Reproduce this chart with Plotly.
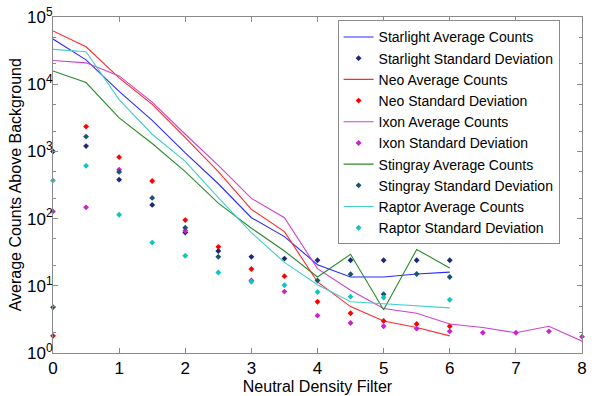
import plotly.graph_objects as go

x_half = [0, 0.5, 1, 1.5, 2, 2.5, 3, 3.5, 4, 4.5, 5, 5.5, 6]
x_ixon = [0, 0.5, 1, 1.5, 2, 2.5, 3, 3.5, 4, 4.5, 5, 5.5, 6, 6.5, 7, 7.5, 8]

starlight_avg = [47000, 23000, 7800, 2900, 950, 330, 103, 54, 20.6, 13.5, 13.5, 15, 16]
neo_avg = [62000, 36000, 12400, 5000, 1600, 500, 137, 64, 11.4, 4.9, 3.0, 2.4, 1.8]
ixon_avg = [22500, 20800, 13300, 5400, 1800, 620, 200, 103, 18, 8.6, 4.6, 3.9, 2.7, 2.4, 2.0, 2.5, 1.5]
stingray_avg = [15700, 10600, 3160, 1310, 500, 170, 72, 33, 13.5, 29.4, 4.4, 34.8, 18.4]
raptor_avg = [33000, 30400, 5900, 1800, 710, 205, 62, 22.3, 10.4, 5.8, 5.4, 5.0, 4.7]

starlight_std = [1000, 1200, 380, 160, 62, 33, 27, 25.4, 24, 24, 24, 24, 24]
neo_std = [1.8, 2340, 820, 362, 95, 38, 17.8, 13.9, 5.8, 3.9, 3.0, 2.7, 2.5]
ixon_std = [128, 147, 535, None, 66, None, 12, 8.2, 3.6, 2.8, 2.5, 2.3, 2.1, 2.0, 2.0, 2.1, 1.75]
stingray_std = [4.8, 1660, 495, 203, 73, 27, None, None, 12, 14.9, 7.5, 15, 13.5]
raptor_std = [370, 610, 114, 44, 28, 15.8, 11.5, 10.2, 8.1, 6.9, 6.7, None, 6.2]

series = [
    ("Starlight", x_half, starlight_avg, starlight_std, "#2b2bff", "#1b2a78"),
    ("Neo", x_half, neo_avg, neo_std, "#ff2a2a", "#ff0000"),
    ("Ixon", x_ixon, ixon_avg, ixon_std, "#cc44cc", "#cc22cc"),
    ("Stingray", x_half, stingray_avg, stingray_std, "#2a8a2a", "#1b5470"),
    ("Raptor", x_half, raptor_avg, raptor_std, "#45cccc", "#10c4c4"),
]

FONT = "Arial, Liberation Sans, sans-serif"
fig = go.Figure()
for name, xs, avg, std, lc, mc in series:
    fig.add_trace(go.Scatter(x=xs, y=avg, mode="lines", name=f"{name} Average Counts",
                             line=dict(color=lc, width=1.1)))
    fig.add_trace(go.Scatter(x=xs, y=std, mode="markers", name=f"{name} Standard Deviation",
                             cliponaxis=False,
                             marker=dict(color=mc, size=4.5, symbol="diamond")))

y_vals = [1, 10, 100, 1000, 10000, 100000]
y_text = [f"10<sup>{i}</sup>" for i in range(6)]

axis_common = dict(showline=True, linecolor="#8a8a8a", linewidth=1, mirror="ticks",
                   ticks="inside", ticklen=5, tickcolor="#8a8a8a", showgrid=False,
                   zeroline=False, tickfont=dict(family=FONT, size=17, color="black"))

fig.update_layout(
    width=592, height=396,
    margin=dict(l=53, r=5, t=14, b=38),
    paper_bgcolor="white", plot_bgcolor="white",
    font=dict(family=FONT, size=16, color="black"),
    xaxis=dict(range=[0, 8], tickvals=list(range(9)),
               title=dict(text="Neutral Density Filter", font=dict(size=16), standoff=1),
               **axis_common),
    yaxis=dict(type="log", range=[0, 5], tickvals=y_vals, ticktext=y_text,
               ticklabelstandoff=-4,
               minor=dict(ticks="inside", ticklen=3, tickcolor="#8a8a8a", showgrid=False),
               **axis_common),
    annotations=[dict(text="Average Counts Above Background", textangle=-90,
                      xref="paper", yref="paper", x=-0.0712, y=0.5,
                      xanchor="center", yanchor="middle", showarrow=False,
                      font=dict(family=FONT, size=16, color="black"))],
    legend=dict(x=0.538, y=0.99, xanchor="left", yanchor="top",
                bgcolor="white", bordercolor="#8a8a8a", borderwidth=1,
                font=dict(family=FONT, size=14, color="black"),
                tracegroupgap=0, itemwidth=30),
    showlegend=True,
)

fig.write_html("out.html")
